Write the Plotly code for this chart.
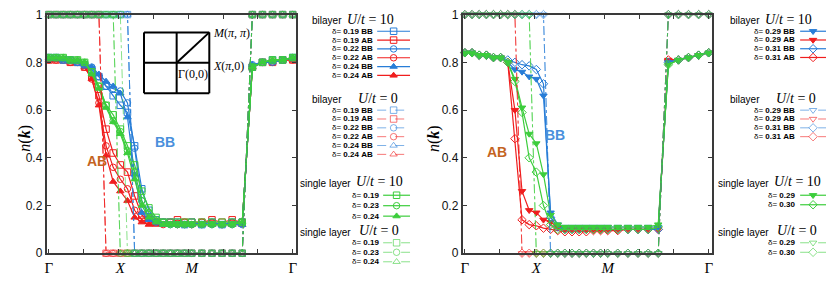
import plotly.graph_objects as go

W, H = 830, 284

# ---------------- data ----------------
# k-path positions along Γ→X→M→Γ (units of π); diagonal points spaced by √2·0.1
K_PATH = [0.0, 0.1, 0.2, 0.3, 0.4, 0.5, 0.6, 0.7, 0.8, 0.9, 1.0,
          1.1, 1.2, 1.3, 1.4, 1.5, 1.6, 1.7, 1.8, 1.9, 2.0,
          2.141, 2.283, 2.424, 2.566, 2.707, 2.849, 2.990, 3.131, 3.273, 3.414]
K_TICKVALS = [0.0, 1.0, 2.0, 3.414]
K_TICKTEXT = ["Γ", "<i>X</i>", "<i>M</i>", "Γ"]
Y_TICKVALS = [0, 0.2, 0.4, 0.6, 0.8, 1]
Y_TICKTEXT = ["0", "0.2", "0.4", "0.6", "0.8", "1"]

# ----- left panel, bilayer U/t=10 -----
L_BB_019 = [0.82, 0.82, 0.81, 0.81, 0.80, 0.79, 0.77, 0.74, 0.70, 0.66, 0.62, 0.59, 0.45, 0.27, 0.18, 0.14,
            0.13, 0.13, 0.13, 0.12, 0.13, 0.12, 0.13, 0.12, 0.13, 0.13, 0.78, 0.80, 0.81, 0.81, 0.82]
L_AB_019 = [0.81, 0.81, 0.81, 0.80, 0.80, 0.78, 0.74, 0.66, 0.52, 0.42, 0.37, 0.34, 0.24, 0.16, 0.14, 0.13,
            0.13, 0.13, 0.14, 0.13, 0.13, 0.13, 0.14, 0.13, 0.14, 0.13, 0.78, 0.80, 0.80, 0.81, 0.81]
L_BB_022 = [0.82, 0.82, 0.81, 0.81, 0.80, 0.79, 0.78, 0.74, 0.70, 0.69, 0.68, 0.63, 0.44, 0.22, 0.15, 0.13,
            0.13, 0.12, 0.12, 0.12, 0.12, 0.12, 0.12, 0.12, 0.12, 0.12, 0.79, 0.80, 0.80, 0.81, 0.82]
L_AB_022 = [0.81, 0.81, 0.81, 0.80, 0.80, 0.78, 0.73, 0.63, 0.45, 0.36, 0.31, 0.27, 0.18, 0.14, 0.13, 0.13,
            0.12, 0.13, 0.12, 0.13, 0.12, 0.13, 0.13, 0.12, 0.13, 0.13, 0.78, 0.80, 0.80, 0.81, 0.81]
L_BB_024 = [0.82, 0.82, 0.81, 0.81, 0.80, 0.79, 0.78, 0.75, 0.72, 0.70, 0.67, 0.57, 0.33, 0.17, 0.14, 0.13,
            0.12, 0.12, 0.12, 0.12, 0.12, 0.12, 0.12, 0.12, 0.12, 0.12, 0.79, 0.80, 0.80, 0.81, 0.82]
L_AB_024 = [0.81, 0.81, 0.81, 0.80, 0.80, 0.78, 0.73, 0.62, 0.41, 0.30, 0.26, 0.22, 0.15, 0.13, 0.12, 0.12,
            0.12, 0.12, 0.12, 0.12, 0.12, 0.12, 0.12, 0.12, 0.12, 0.12, 0.78, 0.80, 0.80, 0.81, 0.81]
# ----- left panel, bilayer U/t=0 -----
L_BB_U0 = [1, 1, 1, 1, 1, 1, 1, 1, 1, 1, 1, 1, 0, 0, 0, 0, 0, 0, 0, 0, 0, 0, 0, 0, 0, 0, 1, 1, 1, 1, 1]
L_AB_U0 = [1, 1, 1, 1, 1, 1, 1, 1, 0, 0, 0, 0, 0, 0, 0, 0, 0, 0, 0, 0, 0, 0, 0, 0, 0, 0, 1, 1, 1, 1, 1]
# ----- left panel, single layer U/t=10 -----
L_SL_019 = [0.82, 0.82, 0.82, 0.81, 0.81, 0.80, 0.76, 0.70, 0.62, 0.58, 0.52, 0.45, 0.37, 0.26, 0.19, 0.15,
            0.13, 0.13, 0.13, 0.13, 0.13, 0.13, 0.13, 0.13, 0.13, 0.13, 0.78, 0.80, 0.81, 0.81, 0.82]
L_SL_023 = [0.82, 0.82, 0.82, 0.81, 0.81, 0.80, 0.76, 0.70, 0.62, 0.555, 0.51, 0.43, 0.34, 0.22, 0.17, 0.14,
            0.13, 0.12, 0.12, 0.12, 0.12, 0.12, 0.12, 0.12, 0.12, 0.13, 0.78, 0.80, 0.81, 0.81, 0.82]
L_SL_024 = [0.82, 0.82, 0.82, 0.81, 0.81, 0.80, 0.75, 0.69, 0.61, 0.55, 0.50, 0.42, 0.31, 0.20, 0.15, 0.13,
            0.12, 0.12, 0.12, 0.12, 0.12, 0.12, 0.12, 0.12, 0.12, 0.13, 0.78, 0.80, 0.81, 0.81, 0.82]
# ----- left panel, single layer U/t=0 -----
L_SL_U0_019 = [1, 1, 1, 1, 1, 1, 1, 1, 1, 1, 1, 0, 0, 0, 0, 0, 0, 0, 0, 0, 0, 0, 0, 0, 0, 0, 1, 1, 1, 1, 1]
L_SL_U0_023 = [1, 1, 1, 1, 1, 1, 1, 1, 1, 1, 0, 0, 0, 0, 0, 0, 0, 0, 0, 0, 0, 0, 0, 0, 0, 0, 1, 1, 1, 1, 1]

# ----- right panel, bilayer U/t=10 -----
R_BB_029 = [0.84, 0.84, 0.83, 0.83, 0.82, 0.82, 0.80, 0.77, 0.76, 0.74, 0.73, 0.66, 0.17, 0.12, 0.11, 0.11,
            0.11, 0.11, 0.11, 0.11, 0.11, 0.11, 0.11, 0.11, 0.11, 0.11, 0.80, 0.81, 0.82, 0.83, 0.84]
R_AB_029 = [0.84, 0.84, 0.83, 0.83, 0.82, 0.82, 0.80, 0.60, 0.26, 0.18, 0.17, 0.14, 0.13, 0.11, 0.10, 0.10,
            0.10, 0.10, 0.10, 0.10, 0.10, 0.10, 0.10, 0.10, 0.10, 0.10, 0.81, 0.81, 0.82, 0.83, 0.84]
R_BB_031 = [0.84, 0.84, 0.83, 0.83, 0.82, 0.82, 0.81, 0.80, 0.79, 0.785, 0.77, 0.71, 0.15, 0.11, 0.10, 0.10,
            0.10, 0.10, 0.10, 0.10, 0.10, 0.10, 0.10, 0.10, 0.10, 0.10, 0.80, 0.81, 0.82, 0.83, 0.84]
R_AB_031 = [0.84, 0.84, 0.83, 0.83, 0.82, 0.82, 0.80, 0.48, 0.14, 0.12, 0.115, 0.105, 0.10, 0.095, 0.09, 0.09,
            0.09, 0.09, 0.095, 0.095, 0.095, 0.095, 0.10, 0.10, 0.10, 0.10, 0.81, 0.81, 0.82, 0.83, 0.84]
# ----- right panel, bilayer U/t=0 -----
R_BB_U0 = [1, 1, 1, 1, 1, 1, 1, 1, 1, 1, 1, 1, 0, 0, 0, 0, 0, 0, 0, 0, 0, 0, 0, 0, 0, 0, 1, 1, 1, 1, 1]
R_AB_U0 = [1, 1, 1, 1, 1, 1, 1, 1, 0, 0, 0, 0, 0, 0, 0, 0, 0, 0, 0, 0, 0, 0, 0, 0, 0, 0, 1, 1, 1, 1, 1]
# ----- right panel, single layer U/t=10 -----
R_SL_029 = [0.84, 0.84, 0.83, 0.83, 0.82, 0.82, 0.80, 0.73, 0.61, 0.50, 0.46, 0.33, 0.16, 0.12, 0.11, 0.11,
            0.11, 0.11, 0.11, 0.11, 0.11, 0.11, 0.11, 0.11, 0.11, 0.12, 0.79, 0.81, 0.82, 0.83, 0.84]
R_SL_030 = [0.84, 0.84, 0.83, 0.83, 0.82, 0.82, 0.80, 0.72, 0.59, 0.40, 0.34, 0.20, 0.12, 0.10, 0.10, 0.10,
            0.10, 0.10, 0.10, 0.10, 0.10, 0.10, 0.10, 0.10, 0.10, 0.11, 0.79, 0.81, 0.82, 0.83, 0.84]
# ----- right panel, single layer U/t=0 -----
R_SL_U0 = [1, 1, 1, 1, 1, 1, 1, 1, 1, 1, 0, 0, 0, 0, 0, 0, 0, 0, 0, 0, 0, 0, 0, 0, 0, 0, 1, 1, 1, 1, 1]

# ---------------- styles ----------------
BLUE = "rgba(40,125,215,1)"
RED = "rgba(240,30,30,1)"
GREEN = "rgba(60,205,60,1)"
BLUE0 = "rgba(40,125,215,0.6)"
RED0 = "rgba(240,30,30,0.6)"
GREEN0 = "rgba(60,205,60,0.6)"

LEFT_GROUPS = [
    ("bilayer", "<i>U</i>/<i>t</i> = 10", 346, [
        ("0.19 BB", L_BB_019, BLUE, "square-open", "solid"),
        ("0.19 AB", L_AB_019, RED, "square-open", "solid"),
        ("0.22 BB", L_BB_022, BLUE, "circle-open", "solid"),
        ("0.22 AB", L_AB_022, RED, "circle-open", "solid"),
        ("0.24 BB", L_BB_024, BLUE, "triangle-up", "solid"),
        ("0.24 AB", L_AB_024, RED, "triangle-up", "solid")]),
    ("bilayer", "<i>U</i>/<i>t</i> = 0", 357, [
        ("0.19 BB", L_BB_U0, BLUE0, "square-open", "dashdot"),
        ("0.19 AB", L_AB_U0, RED0, "square-open", "dashdot"),
        ("0.22 BB", L_BB_U0, BLUE0, "circle-open", "dashdot"),
        ("0.22 AB", L_AB_U0, RED0, "circle-open", "dashdot"),
        ("0.24 BB", L_BB_U0, BLUE0, "triangle-up-open", "dashdot"),
        ("0.24 AB", L_AB_U0, RED0, "triangle-up-open", "dashdot")]),
    ("single layer", "<i>U</i>/<i>t</i> = 10", 355, [
        ("0.19", L_SL_019, GREEN, "square-open", "solid"),
        ("0.23", L_SL_023, GREEN, "circle-open", "solid"),
        ("0.24", L_SL_024, GREEN, "triangle-up", "solid")]),
    ("single layer", "<i>U</i>/<i>t</i> = 0", 358, [
        ("0.19", L_SL_U0_019, GREEN0, "square-open", "dashdot"),
        ("0.23", L_SL_U0_023, GREEN0, "circle-open", "dashdot"),
        ("0.24", L_SL_U0_023, GREEN0, "triangle-up-open", "dashdot")]),
]
RIGHT_GROUPS = [
    ("bilayer", "<i>U</i>/<i>t</i> = 10", 766, [
        ("0.29 BB", R_BB_029, BLUE, "triangle-down", "solid"),
        ("0.29 AB", R_AB_029, RED, "triangle-down", "solid"),
        ("0.31 BB", R_BB_031, BLUE, "diamond-open", "solid"),
        ("0.31 AB", R_AB_031, RED, "diamond-open", "solid")]),
    ("bilayer", "<i>U</i>/<i>t</i> = 0", 777, [
        ("0.29 BB", R_BB_U0, BLUE0, "triangle-down-open", "dashdot"),
        ("0.29 AB", R_AB_U0, RED0, "triangle-down-open", "dashdot"),
        ("0.31 BB", R_BB_U0, BLUE0, "diamond-open", "dashdot"),
        ("0.31 AB", R_AB_U0, RED0, "diamond-open", "dashdot")]),
    ("single layer", "<i>U</i>/<i>t</i> = 10", 775, [
        ("0.29", R_SL_029, GREEN, "triangle-down", "solid"),
        ("0.30", R_SL_030, GREEN, "diamond-open", "solid")]),
    ("single layer", "<i>U</i>/<i>t</i> = 0", 778, [
        ("0.29", R_SL_U0, GREEN0, "triangle-down-open", "dashdot"),
        ("0.30", R_SL_U0, GREEN0, "diamond-open", "dashdot")]),
]

# legend layout (pixels)
LEFT_LEG = dict(header_y=[13, 96, 184, 235.5],
                rows_y=[[25.5, 34.8, 44.1, 53.4, 62.7, 72], [108.5, 117.8, 127.1, 136.4, 145.7, 155],
                        [198, 209, 220], [248, 258, 268]],
                head_right=[343, 343, 352, 352],
                text_right=[374, 374, 380, 380], line_x=[[377, 410], [377, 410], [383, 410], [383, 410]])
RIGHT_LEG = dict(header_y=[13, 96, 184, 235.5],
                 rows_y=[[25.5, 34.7, 43.9, 53.1], [108.5, 117.8, 127.1, 136.4], [198, 208], [248, 258]],
                 head_right=[763, 763, 772, 772],
                 text_right=[798, 798, 798, 798], line_x=[[802, 828]] * 4)

fig = go.Figure()

ORDER = {RED: 0, BLUE: 1, GREEN: 2, RED0: 3, BLUE0: 4, GREEN0: 5}


def add_panel(groups, xa, ya):
    items = []
    for _, _, _, rows in groups:
        for lab, vals, col, sym, dash in rows:
            items.append((ORDER[col], lab, vals, col, sym, dash))
    items.sort(key=lambda t: t[0])
    for _, lab, vals, col, sym, dash in items:
        fig.add_trace(go.Scatter(
            x=K_PATH, y=vals, mode="lines+markers", xaxis=xa, yaxis=ya, cliponaxis=False,
            line=dict(color=col, width=1.2 if dash == "solid" else 1, dash=dash),
            marker=dict(symbol=sym, size=6.5, color=col, line=dict(color=col, width=1)),
            name=lab, hoverinfo="skip"))


add_panel(LEFT_GROUPS, "x", "y")
add_panel(RIGHT_GROUPS, "x2", "y2")

annotations = []


def P(px, py):
    return px / W, 1 - py / H


def add_legend(groups, leg):
    for g, (head1, head2, h2x, rows) in enumerate(groups):
        hy = leg["header_y"][g]
        x, y = P(leg["head_right"][g], hy + 1.5)
        annotations.append(dict(x=x, y=y, xref="paper", yref="paper", text=head1, showarrow=False,
                                xanchor="right", yanchor="middle", borderpad=0,
                                font=dict(family="Liberation Sans, Arial", size=10, color="black")))
        x, y = P(h2x, hy)
        annotations.append(dict(x=x, y=y, xref="paper", yref="paper", text=head2, showarrow=False,
                                xanchor="left", yanchor="middle", borderpad=0,
                                font=dict(family="Liberation Serif, Times New Roman", size=14, color="black")))
        for r, (lab, vals, col, sym, dash) in enumerate(rows):
            ry = leg["rows_y"][g][r]
            x, y = P(leg["text_right"][g], ry)
            annotations.append(dict(x=x, y=y, xref="paper", yref="paper",
                                    text="δ= <b>" + lab + "</b>", showarrow=False,
                                    xanchor="right", yanchor="middle", borderpad=0,
                                    font=dict(family="Liberation Sans, Arial", size=8, color="black")))
            x0, x1 = leg["line_x"][g]
            fig.add_trace(go.Scatter(x=[x0, x1], y=[ry, ry], mode="lines", xaxis="x3", yaxis="y3",
                                     line=dict(color=col, width=1.2 if dash == "solid" else 1,
                                               dash="dash" if dash != "solid" else "solid"),
                                     hoverinfo="skip", cliponaxis=False))
            fig.add_trace(go.Scatter(x=[(x0 + x1) / 2], y=[ry], mode="markers", xaxis="x3", yaxis="y3",
                                     marker=dict(symbol=sym, size=6.5, color=col, line=dict(color=col, width=1)),
                                     hoverinfo="skip", cliponaxis=False))


add_legend(LEFT_GROUPS, LEFT_LEG)
add_legend(RIGHT_GROUPS, RIGHT_LEG)

# panel texts
for (px, py, txt, col) in [(151.5, 142, "BB", "#4a8fdc"), (83, 162, "AB", "#c4641f"),
                           (568, 135, "BB", "#4a8fdc"), (497.5, 153, "AB", "#c4641f")]:
    x, y = P(px, py)
    annotations.append(dict(x=x, y=y, xref="paper", yref="paper", text="<b>" + txt + "</b>", showarrow=False,
                            font=dict(family="Liberation Sans, Arial", size=14, color=col)))

# y titles
for px in [12.5, 434]:
    x, y = P(px, 138)
    annotations.append(dict(x=x, y=y, xref="paper", yref="paper", text="<i>n</i>(<b><i>k</i></b>)",
                            showarrow=False, textangle=-90,
                            font=dict(family="Liberation Serif, Times New Roman", size=16, color="black")))

# inset Brillouin zone sketch
shapes = []
bx0, by0, bx1, by1 = 142.7, 26.7, 208.3, 90.7
cx, cy = (bx0 + bx1) / 2, (by0 + by1) / 2
for (a, b, c, d) in [(bx0, by0, bx1, by0), (bx1, by0, bx1, by1), (bx1, by1, bx0, by1), (bx0, by1, bx0, by0),
                     (cx, by0, cx, by1), (bx0, cy, bx1, cy), (cx, cy, bx1, by0)]:
    xa_, ya_ = P(a, b)
    xb_, yb_ = P(c, d)
    shapes.append(dict(type="line", xref="paper", yref="paper", x0=xa_, y0=ya_, x1=xb_, y1=yb_,
                       line=dict(color="black", width=2)))
for (px, py, txt) in [(211, 27, "<i>M</i>(<i>π</i>, <i>π</i>)"), (211, 62, "<i>X</i>(<i>π</i>,0)"),
                      (175.5, 70, "Γ(0,0)")]:
    x, y = P(px, py)
    annotations.append(dict(x=x, y=y, xref="paper", yref="paper", text=txt, showarrow=False,
                            xanchor="left", yanchor="middle", borderpad=0,
                            font=dict(family="Liberation Serif, Times New Roman", size=12, color="black")))

X_RANGE = [-0.03, 3.454]
MINOR_X = [0.0, 0.4878, 0.9756, 1.4634, 1.9512, 2.439, 2.9268, 3.4146]
FRAME = "#3a3a3a"


def xcfg(dom, anchor):
    return dict(domain=dom, range=X_RANGE, anchor=anchor, showgrid=False, zeroline=False,
                showline=True, mirror="ticks", linewidth=2, linecolor=FRAME,
                tickmode="array", tickvals=K_TICKVALS, ticktext=K_TICKTEXT, ticks="",
                tickfont=dict(family="Liberation Serif, Times New Roman", size=15, color="black"),
                minor=dict(tickmode="array", tickvals=MINOR_X, ticks="inside", ticklen=4,
                           tickwidth=1, tickcolor=FRAME, showgrid=False),
                fixedrange=True)


def ycfg(anchor):
    return dict(domain=[1 - 259 / H, 1 - 8 / H], range=[0, 1], anchor=anchor, showgrid=False, zeroline=False,
                showline=True, mirror="ticks", linewidth=2, linecolor=FRAME,
                tickmode="array", tickvals=Y_TICKVALS, ticktext=Y_TICKTEXT, ticks="inside", ticklen=4,
                tickwidth=1, tickcolor=FRAME,
                tickfont=dict(family="Liberation Sans, Arial", size=12, color="#111"),
                fixedrange=True)


fig.update_layout(
    width=W, height=H, margin=dict(l=0, r=0, t=0, b=0, pad=0), autosize=False,
    paper_bgcolor="white", plot_bgcolor="rgba(0,0,0,0)", showlegend=False,
    xaxis=xcfg([45 / W, 295 / W], "y"), yaxis=ycfg("x"),
    xaxis2=xcfg([463 / W, 713 / W], "y2"), yaxis2=ycfg("x2"),
    xaxis3=dict(domain=[0, 1], range=[0, W], anchor="y3", visible=False, fixedrange=True),
    yaxis3=dict(domain=[0, 1], range=[H, 0], anchor="x3", visible=False, fixedrange=True),
    annotations=annotations, shapes=shapes,
)

fig.write_html("out.html", config={"displayModeBar": False},
               post_script="document.body.style.margin='0px';document.body.style.overflow='hidden';")
